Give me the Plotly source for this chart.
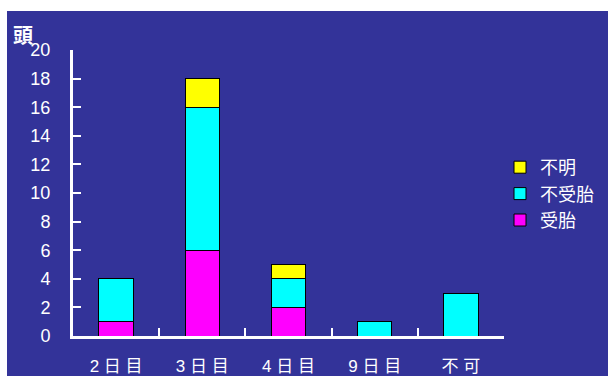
import plotly.graph_objects as go

categories = ["2 日 目", "3 日 目", "4 日 目", "9 日 目", "不 可"]
jutai = [1, 6, 2, 0, 0]          # 受胎
fujutai = [3, 10, 2, 1, 3]       # 不受胎
fumei = [0, 2, 1, 0, 0]          # 不明
y_ticks = list(range(0, 21, 2))

BG = "#333399"
FONT = "Liberation Sans, Arial, Noto Sans CJK JP"

fig = go.Figure()
for name, vals, col in [("受胎", jutai, "#FF00FF"),
                        ("不受胎", fujutai, "#00FFFF"),
                        ("不明", fumei, "#FFFF00")]:
    fig.add_trace(go.Bar(x=categories, y=vals, name=name, width=0.4,
                         marker=dict(color=col, line=dict(color="#000000", width=1))))

L, R, T, B = 73, 104, 50, 40
W, H = 608, 376
pw, ph = W - L - R, H - T - B

fig.update_layout(
    width=W, height=H,
    margin=dict(l=L, r=R, t=T, b=B, autoexpand=False),
    paper_bgcolor="white", plot_bgcolor=BG,
    barmode="stack",
    font=dict(family=FONT, color="white", size=16),
    showlegend=True,
    legend=dict(x=(500 - L) / pw, y=(H - B - 194) / ph, xanchor="left", yanchor="middle",
                traceorder="reversed", bgcolor="rgba(0,0,0,0)",
                font=dict(size=18, color="white", family="Noto Sans CJK JP")),
    xaxis=dict(range=[-0.5, 4.5], showline=True, linecolor="white", linewidth=3,
               ticks="inside", tickson="boundaries", ticklen=8, tickwidth=2,
               tickcolor="white", showgrid=False, zeroline=False,
               tickfont=dict(size=17, family="Liberation Sans, Noto Sans CJK JP"),
               ticklabelstandoff=13),
    yaxis=dict(range=[0, 20], tickvals=y_ticks, showline=True, linecolor="white",
               linewidth=3, ticks="inside", ticklen=8, tickwidth=2, tickcolor="white",
               showgrid=False, zeroline=False, ticklabelstandoff=16,
               tickfont=dict(size=18)),
    shapes=[
        dict(type="rect", xref="paper", yref="paper",
             x0=(7 - L) / pw, x1=(W - L) / pw + 0.05,
             y0=-B / ph - 0.05, y1=(H - B - 11) / ph,
             fillcolor=BG, line=dict(width=0), layer="below"),
    ],
    annotations=[dict(text="<b>頭</b>", xref="paper", yref="paper",
                      x=(11 - L) / pw, y=(H - B - 18) / ph, xanchor="left", yanchor="top",
                      showarrow=False,
                      font=dict(size=20, color="white", family="Noto Sans CJK JP"))],
)

fig.write_html("out.html")
